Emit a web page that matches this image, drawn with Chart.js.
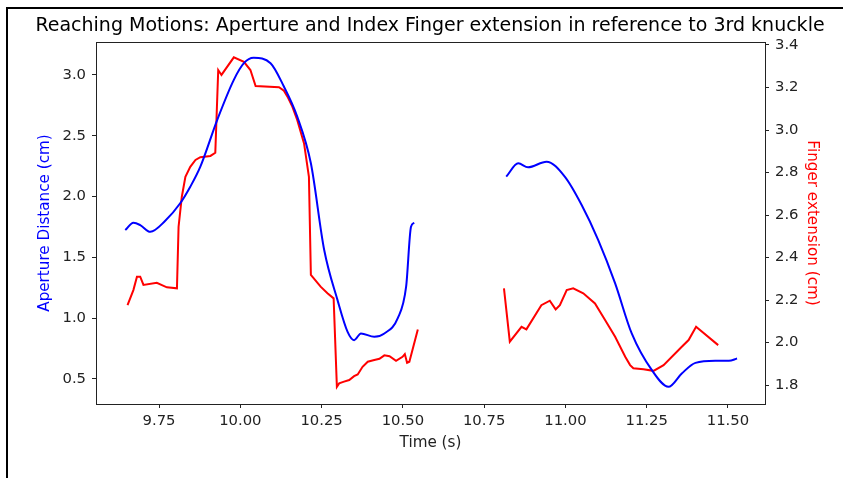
<!DOCTYPE html>
<html>
<head>
<meta charset="utf-8">
<script src="https://cdn.jsdelivr.net/npm/chart.js@4"></script>
<style>
  html, body { margin: 0; padding: 0; background: #fff; }
  #wrap { position: relative; width: 843px; height: 478px; }
  #frame { position: absolute; left: 6px; top: 7px; right: 0; bottom: 0;
           border-top: 2px solid #000; border-left: 2px solid #000; pointer-events: none; }
</style>
</head>
<body>
<div id="wrap">
  <canvas id="c"></canvas>
  <div id="frame"></div>
</div>
<script>
// ---- Data ----
const apertureTime = [9.646, 9.671, 9.692, 9.723, 9.769, 9.815, 9.846, 9.877, 9.929, 9.980, 10.011, 10.041,
  10.093, 10.134, 10.175, 10.217, 10.258, 10.299, 10.330, 10.350, 10.371, 10.412, 10.443, 10.484, 10.510, 10.525, 10.535,
  10.68,
  10.818, 10.855, 10.885, 10.942, 10.998, 11.050, 11.101, 11.153, 11.204, 11.266, 11.317, 11.358, 11.400, 11.461, 11.503, 11.528];
const aperture = [1.724, 1.784, 1.765, 1.710, 1.800, 1.944, 2.080, 2.245, 2.630, 2.959, 3.096, 3.140,
  3.096, 2.904, 2.657, 2.273, 1.560, 1.148, 0.887, 0.819, 0.874, 0.846, 0.874, 0.998, 1.258, 1.751, 1.784,
  null,
  2.163, 2.273, 2.240, 2.286, 2.163, 1.930, 1.642, 1.286, 0.874, 0.572, 0.435, 0.545, 0.632, 0.649, 0.649, 0.668];

const fingerTime = [9.653, 9.671, 9.682, 9.692, 9.702, 9.743, 9.774, 9.805, 9.810, 9.820, 9.831, 9.846, 9.862,
  9.877, 9.908, 9.923, 9.932, 9.942, 9.980, 10.011, 10.031, 10.047, 10.119, 10.134, 10.145, 10.160, 10.175,
  10.196, 10.211, 10.217, 10.247, 10.268, 10.287, 10.297, 10.304, 10.319, 10.335, 10.350, 10.361, 10.376,
  10.392, 10.412, 10.428, 10.443, 10.459, 10.479, 10.499, 10.506, 10.513, 10.520, 10.546,
  10.68,
  10.811, 10.829, 10.865, 10.880, 10.926, 10.952, 10.970, 10.983, 11.004, 11.024, 11.055, 11.091, 11.122,
  11.153, 11.184, 11.199, 11.209, 11.240, 11.271, 11.302, 11.358, 11.379, 11.402, 11.470];
const finger = [2.176, 2.247, 2.310, 2.310, 2.271, 2.281, 2.260, 2.255, 2.545, 2.686, 2.780, 2.827, 2.859,
  2.872, 2.878, 2.893, 3.282, 3.259, 3.342, 3.321, 3.282, 3.207, 3.201, 3.185, 3.157, 3.110, 3.047,
  2.937, 2.780, 2.318, 2.263, 2.232, 2.208, 1.792, 1.808, 1.816, 1.824, 1.842, 1.850, 1.886,
  1.910, 1.918, 1.924, 1.940, 1.936, 1.914, 1.933, 1.946, 1.905, 1.910, 2.062,
  null,
  2.255, 2.004, 2.074, 2.062, 2.176, 2.197, 2.156, 2.176, 2.247, 2.255, 2.232, 2.184, 2.106,
  2.027, 1.933, 1.894, 1.879, 1.874, 1.867, 1.894, 1.980, 2.012, 2.074, 1.988];

const xTicks = [9.75, 10.0, 10.25, 10.5, 10.75, 11.0, 11.25, 11.5];
const leftTicks = [0.5, 1.0, 1.5, 2.0, 2.5, 3.0];
const rightTicks = [1.8, 2.0, 2.2, 2.4, 2.6, 2.8, 3.0, 3.2, 3.4];

const FONT = 'DejaVu Sans';
const TICK_SIZE = 14.8;
const LABEL_SIZE = 15.2;
const toPoints = (xs, ys) => xs.map((x, i) => ({ x: x, y: ys[i] }));

const frameBox = {
  id: 'frameBox',
  afterDatasetsDraw(chart) {
    const a = chart.chartArea, ctx = chart.ctx;
    ctx.save();
    ctx.strokeStyle = '#222';
    ctx.lineWidth = 1;
    ctx.strokeRect(Math.round(a.left) + 0.5, Math.round(a.top) + 0.5,
                   Math.round(a.right - a.left), Math.round(a.bottom - a.top));
    ctx.restore();
  }
};

function fixTicks(list) {
  return function (scale) { scale.ticks = list.map(v => ({ value: v })); };
}

new Chart(document.getElementById('c'), {
  type: 'line',
  data: {
    datasets: [
      {
        label: 'Aperture',
        data: toPoints(apertureTime, aperture),
        borderColor: '#0000ff',
        borderWidth: 2,
        pointRadius: 0,
        cubicInterpolationMode: 'monotone',
        spanGaps: false,
        yAxisID: 'y'
      },
      {
        label: 'Finger extension',
        data: toPoints(fingerTime, finger),
        borderColor: '#ff0000',
        borderWidth: 2,
        pointRadius: 0,
        tension: 0,
        spanGaps: false,
        yAxisID: 'y1'
      }
    ]
  },
  options: {
    responsive: true,
    maintainAspectRatio: false,
    animation: false,
    layout: { padding: { left: 17, right: 0, top: 0, bottom: 0 } },
    plugins: {
      legend: { display: false },
      tooltip: { enabled: false },
      title: {
        display: true,
        fullSize: true,
        text: 'Reaching Motions: Aperture and Index Finger extension in reference to 3rd knuckle',
        color: '#000',
        font: { family: FONT, size: 19, weight: 'normal', lineHeight: 1.2 },
        padding: { top: 14.7, bottom: 4.5 }
      }
    },
    scales: {
      x: {
        type: 'linear',
        min: 9.556, max: 11.614,
        afterBuildTicks: fixTicks(xTicks),
        afterFit(s) { s.height = 74; },
        grid: { drawOnChartArea: false, drawTicks: true, tickLength: 4, tickColor: '#222' },
        border: { display: true, color: '#222' },
        ticks: {
          color: '#222', padding: 4, maxRotation: 0, autoSkip: false,
          font: { family: FONT, size: TICK_SIZE },
          callback: v => Number(v).toFixed(2)
        },
        title: {
          display: true, text: 'Time (s)', color: '#222',
          font: { family: FONT, size: LABEL_SIZE, lineHeight: 1.2 },
          padding: { top: 0, bottom: 26 }
        }
      },
      y: {
        type: 'linear', position: 'left',
        min: 0.294, max: 3.27,
        afterBuildTicks: fixTicks(leftTicks),
        afterFit(s) { s.width = 79; },
        grid: { drawOnChartArea: false, drawTicks: true, tickLength: 4, tickColor: '#222' },
        border: { display: true, color: '#222' },
        ticks: {
          color: '#222', padding: 6, autoSkip: false,
          font: { family: FONT, size: TICK_SIZE },
          callback: v => Number(v).toFixed(1)
        },
        title: {
          display: true, text: 'Aperture Distance (cm)', color: '#0000ff',
          font: { family: FONT, size: LABEL_SIZE, lineHeight: 1.2 },
          padding: { top: 19, bottom: 0 }
        }
      },
      y1: {
        type: 'linear', position: 'right',
        min: 1.711, max: 3.414,
        afterBuildTicks: fixTicks(rightTicks),
        afterFit(s) { s.width = 78; },
        grid: { drawOnChartArea: false, drawTicks: true, tickLength: 4, tickColor: '#222' },
        border: { display: true, color: '#222' },
        ticks: {
          color: '#222', padding: 6, autoSkip: false,
          font: { family: FONT, size: TICK_SIZE },
          callback: v => Number(v).toFixed(1)
        },
        title: {
          display: true, text: 'Finger extension (cm)', color: '#ff0000',
          font: { family: FONT, size: LABEL_SIZE, lineHeight: 1.2 },
          padding: { top: 22, bottom: 0 }
        }
      }
    }
  },
  plugins: [frameBox]
});
</script>
</body>
</html>
